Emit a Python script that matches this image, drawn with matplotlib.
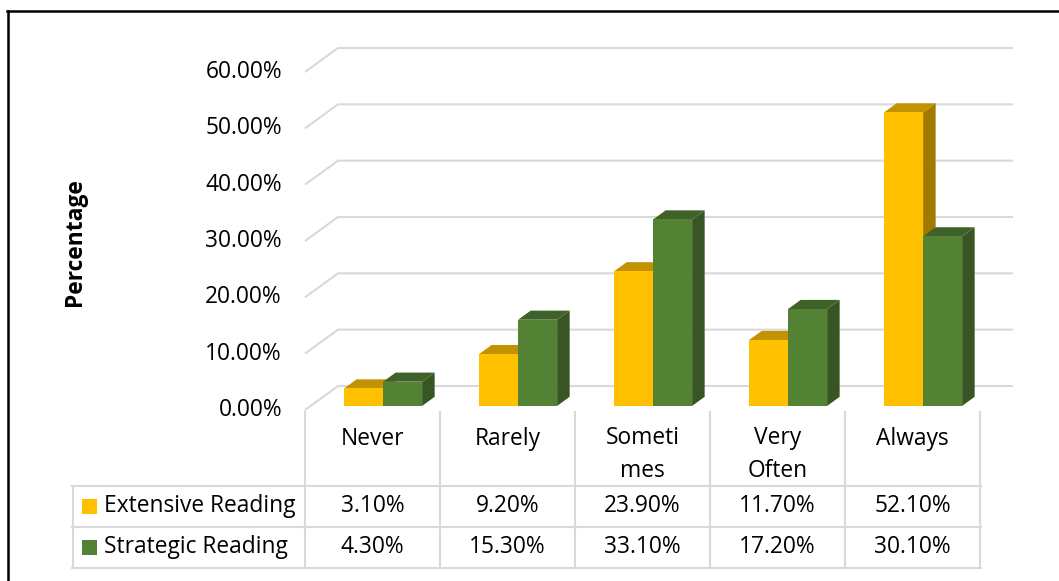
import matplotlib
matplotlib.use("Agg")
import matplotlib.pyplot as plt
from matplotlib.patches import Polygon, Rectangle
from matplotlib.lines import Line2D
from matplotlib.transforms import IdentityTransform, blended_transform_factory
import numpy as np

# ---------------- data ----------------
categories = ["Never", "Rarely", "Someti\nmes", "Very\nOften", "Always"]
series_names = ["Extensive Reading", "Strategic Reading"]
extensive = [3.1, 9.2, 23.9, 11.7, 52.1]
strategic = [4.3, 15.3, 33.1, 17.2, 30.1]
yticks = [0, 10, 20, 30, 40, 50, 60]

# ---------------- style ----------------
plt.rcParams['font.family'] = ['Open Sans', 'DejaVu Sans']
FS = 16.4
front_cols = ["#FFC000", "#548235"]
top_cols = ["#C29200", "#3F6229"]
side_cols = ["#A37A00", "#375623"]
GRID = "#D9D9D9"

W, H, DPI = 1059, 581, 100
fig = plt.figure(figsize=(W / DPI, H / DPI), dpi=DPI)
fig.patch.set_facecolor("white")
ax = fig.add_axes([305 / W, 1 - 410 / H, 675 / W, 338 / H])
ax.set_xlim(0, len(categories))
ax.set_ylim(0, 60)
ax.axis("off")

DEPTH = np.array([33.0, 24.0])  # pixel shift of the back wall
ID = IdentityTransform()


def P(x, y, f):
    """display coords of data point (x, y) pushed back by depth fraction f"""
    return ax.transData.transform((x, y)) + f * DEPTH


def disp_y(py):
    return H - py


# gridlines (back wall + left side wall)
for v in yticks:
    pts = np.array([P(0, v, 0), P(0, v, 1), P(len(categories), v, 1)])
    fig.add_artist(Line2D(pts[:, 0], pts[:, 1], transform=ID, color=GRID,
                          lw=1.5, zorder=1, solid_capstyle="butt"))
    ax.annotate(f"{v:.2f}%", xy=(0, v), xytext=(-23, 0), textcoords="offset pixels",
                ha="right", va="center", fontsize=FS, color="#000000",
                annotation_clip=False)

# 3D bars
BW = 0.289
X0 = 0.248
F0, F1 = 0.17, 0.55
for i in range(len(categories)):
    for s, vals in enumerate([extensive, strategic]):
        h = vals[i]
        xl = i + X0 + s * BW
        xr = xl + BW
        side = [P(xr, 0, F0), P(xr, 0, F1), P(xr, h, F1), P(xr, h, F0)]
        top = [P(xl, h, F0), P(xr, h, F0), P(xr, h, F1), P(xl, h, F1)]
        front = [P(xl, 0, F0), P(xr, 0, F0), P(xr, h, F0), P(xl, h, F0)]
        for verts, col in [(side, side_cols[s]), (top, top_cols[s]), (front, front_cols[s])]:
            fig.add_artist(Polygon(verts, closed=True, transform=ID, facecolor=col,
                                   edgecolor="none", zorder=3))

# ---------------- data table ----------------
col_x = [ax.transData.transform((k, 0))[0] for k in range(len(categories) + 1)]
left_px = 73
row_lines = [486, 527, 568]
for cx in col_x:
    fig.add_artist(Line2D([cx, cx], [disp_y(412), disp_y(568)], transform=ID,
                          color=GRID, lw=1.5, zorder=2))
fig.add_artist(Line2D([left_px, left_px], [disp_y(486), disp_y(568)], transform=ID,
                      color=GRID, lw=1.5, zorder=2))
for ry in row_lines:
    fig.add_artist(Line2D([left_px - 1, col_x[-1] + 1], [disp_y(ry), disp_y(ry)], transform=ID,
                          color=GRID, lw=1.5, zorder=2))

tx = blended_transform_factory(ax.transData, fig.transFigure)
for i, cat in enumerate(categories):
    n = cat.count("\n") + 1
    cy = 439 + (n - 1) * 31 / 2
    ax.text(i + 0.5, 1 - cy / H, cat, transform=tx, ha="center", va="center",
            fontsize=FS, linespacing=1.55, clip_on=False)

row_y = [506, 547]
for s, vals in enumerate([extensive, strategic]):
    yy = 1 - row_y[s] / H
    fig.add_artist(Rectangle((82 / W, 1 - (row_y[s] + 7.5) / H), 15 / W, 15 / H,
                             transform=fig.transFigure,
                             facecolor=front_cols[s], edgecolor="none"))
    fig.text(104 / W, yy, series_names[s], ha="left", va="center", fontsize=FS)
    for i, v in enumerate(vals):
        ax.text(i + 0.5, yy, f"{v:.2f}%", transform=tx, ha="center", va="center",
                fontsize=FS, clip_on=False)

# axis title
fig.text(75 / W, 1 - 242 / H, "Percentage", rotation=90, ha="center", va="center",
         fontsize=FS, fontweight="bold")

# outer frame (top and left visible)
fig.add_artist(Line2D([7, W], [disp_y(11), disp_y(11)], transform=ID, color="black", lw=1.8))
fig.add_artist(Line2D([8, 8], [disp_y(11), 0], transform=ID, color="black", lw=1.8))

fig.savefig("out.png", dpi=DPI, facecolor="white")
